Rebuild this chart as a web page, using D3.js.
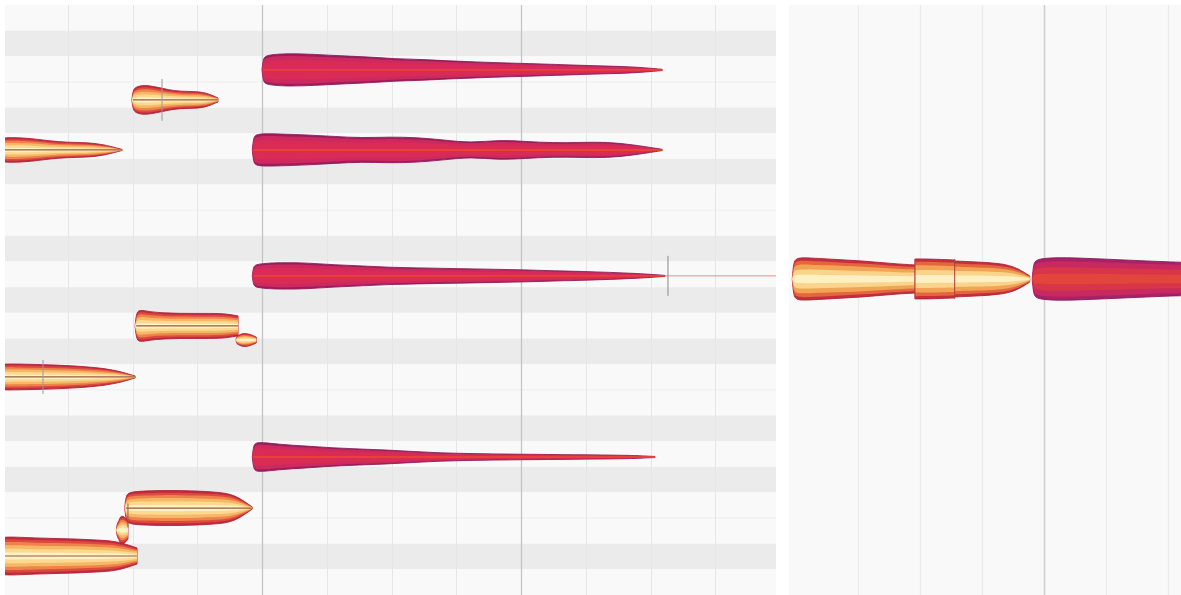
<!DOCTYPE html>
<html><head><meta charset="utf-8">
<script src="https://cdn.jsdelivr.net/npm/d3@7"></script>
<style>html,body{margin:0;padding:0;background:#fff;overflow:hidden}svg{display:block}</style>
</head><body>
<svg id="c" width="1181" height="595"></svg>
<script>
// ---------- data ----------
const pitchRows = [79,78,77,76,75,74,73,72,71,70,69,68,67,66,65,64,63,62,61,60,59,58,57];
const blackPitchClasses = [1,3,6,8,10];
const leftGridBeats = [1,2,3,4,5,6,7,8,9,10,11];
const leftMajorBeats = [4,8];
const rightGridBeats = [1,2,3,4,5,6];
const rightMajorBeats = [4];

const noteName  = ['redA','redB','redC','redD','y1','y2','y3','y3b','y4','y5','y5b','y6','r1','r2','r3','r4'];
const notePanel = ['L','L','L','L','L','L','L','L','L','L','L','L','R','R','R','R'];
const noteKind  = ['red','red','red','red','gold','gold','gold','gold','gold','gold','gold','gold','gold','gold','gold','red'];
const noteStart = [4.0, 3.85, 3.85, 3.85, 1.99, -0.12, 2.04, 3.60, -0.12, 1.88, 1.75, -0.12, -0.06, 1.92, 2.56, 3.81];
const noteEnd   = [10.18,10.18,10.22,10.07,3.32, 1.84, 3.63, 3.91, 2.04, 3.85, 1.93, 2.07, 1.92, 2.56, 3.77, 6.40];
const notePitch = [76.97,73.85,68.94,61.88,75.8,73.85,66.99,66.44,65.0,59.89,59.03,58.02,68.82,68.82,68.82,68.82];
const noteAmp = [
  [15,16.5,15.5,14,13,11,10.5,9,8,7,6.3,5.5,4.5,3.8,3,0.6],
  [16.5,16,15,13.5,12,13,12.5,10,7,10,8.5,7,7.5,8,5,0.6],
  [12,13.5,13,11,10,8.5,8,7.5,7,6.5,6,5,4.5,3.5,2.5,0.5],
  [15.5,12.5,11,9,8,7,5.5,4,3.5,3,2.8,2.5,2.2,2,1.8,0.5],
  [13,15,13,10,8.5,8.5,7.5,2],
  [12,12.5,11.5,9,7.5,7.5,5.5,0.5],
  [16.5,14,13,12.5,12.5,12.5,12.5,10],
  [4,7,6,3],
  [13,13,12.5,12,11,9.5,7,1],
  [16,17,17.5,17.5,17,16,14,1],
  [9,14,14,9],
  [19,19,18,17.5,17,16,15,8],
  [21.5,21,20,19,18,16.5,15,14],
  [20,20,19.5,19],
  [18,17.5,17,16.5,15.5,14,10,3],
  [20,21.5,21,20,19,18,17,16.5]
];
const noteHasLine = [true,true,true,true,true,true,true,false,true,true,false,true,false,false,false,false];

const sepPanel = ['L','L','L','L','R','R'];
const sepBeat  = [0.618, 2.456, 10.27, 1.93, 1.92, 2.56];
const sepPitch = [65.0, 75.8, 68.94, 59.6, 68.82, 68.82];
const sepHalf  = [17, 21, 20, 12, 20, 20];
const sepColor = ['#9a9a9a','#9a9a9a','#888888','#a05a3a','#b24a3e','#b24a3e'];

const tailStart = [10.22], tailEnd = [12.2], tailPitch = [68.94];

// ---------- scales ----------
const svg = d3.select('#c');
const y = d3.scaleLinear().domain([79.5, 56.5]).range([5, 595]);
const xL = d3.scaleLinear().domain([0, 12]).range([3, 780]);
const xR = d3.scaleLinear().domain([0, 4]).range([796, 1044]);
const amp = d3.scaleLinear().domain([0, 25]).range([0, 25]);
const LP = {x0: 5, x1: 776}, RP = {x0: 789, x1: 1181};

const defs = svg.append('defs');
defs.append('clipPath').attr('id','clipL').append('rect').attr('x',LP.x0).attr('y',5).attr('width',LP.x1-LP.x0).attr('height',590);
defs.append('clipPath').attr('id','clipR').append('rect').attr('x',RP.x0).attr('y',5).attr('width',RP.x1-RP.x0).attr('height',590);
defs.append('filter').attr('id','soft').append('feGaussianBlur').attr('stdDeviation',0.55);

svg.append('rect').attr('width',1181).attr('height',595).attr('fill','#ffffff');

// ---------- left panel background ----------
const gL = svg.append('g').attr('clip-path','url(#clipL)');
gL.selectAll('rect.lane').data(pitchRows).join('rect')
  .attr('x',LP.x0).attr('width',LP.x1-LP.x0)
  .attr('y',p=>y(p+0.5)).attr('height',p=>y(p-0.5)-y(p+0.5))
  .attr('fill',p=>blackPitchClasses.includes(p%12)?'#ebebeb':'#f9f9f9');
gL.selectAll('line.hb').data(pitchRows.filter(p=>!blackPitchClasses.includes(p%12)&&!blackPitchClasses.includes((p-1)%12)))
  .join('line').attr('x1',LP.x0).attr('x2',LP.x1)
  .attr('y1',p=>y(p-0.5)).attr('y2',p=>y(p-0.5))
  .attr('stroke','#eeeeee').attr('stroke-width',1);
gL.selectAll('line.vg').data(leftGridBeats).join('line')
  .attr('x1',b=>Math.round(xL(b))+0.5).attr('x2',b=>Math.round(xL(b))+0.5)
  .attr('y1',5).attr('y2',595)
  .attr('stroke',b=>leftMajorBeats.includes(b)?'#c4c4c4':'#e6e6e6')
  .attr('stroke-width',b=>leftMajorBeats.includes(b)?1.3:1);

// ---------- right panel background ----------
const gR = svg.append('g').attr('clip-path','url(#clipR)');
gR.append('rect').attr('x',RP.x0).attr('y',5).attr('width',RP.x1-RP.x0).attr('height',590).attr('fill','#f9f9f9');
gR.selectAll('line.vg').data(rightGridBeats).join('line')
  .attr('x1',b=>Math.round(xR(b))+0.5).attr('x2',b=>Math.round(xR(b))+0.5)
  .attr('y1',5).attr('y2',595)
  .attr('stroke',b=>rightMajorBeats.includes(b)?'#cfcfcf':'#ececec')
  .attr('stroke-width',b=>rightMajorBeats.includes(b)?1.6:1.2);

// ---------- notes ----------
const goldLayers = [[1.0,'#bf2a40'],[0.88,'#dc4a3e'],[0.74,'#ee8448'],[0.57,'#f6b868'],[0.38,'#fbd98e'],[0.18,'#fff1c6']];
const goldLayersR = [[1.0,'#c42e3c'],[0.86,'#e4663e'],[0.68,'#f2a456'],[0.45,'#f9d48a'],[0.2,'#fff0c4']];
const redLayers  = [[1.0,'#9c1f5e'],[0.86,'#cc2a5e'],[0.6,'#da2c56']];
const redLayersR = [[1.0,'#a8206a'],[0.84,'#c82a5e'],[0.55,'#d83648'],[0.25,'#e2443a']];

const gNotesL = gL.append('g').attr('filter','url(#soft)');
const gNotesR = gR.append('g').attr('filter','url(#soft)');

tailStart.forEach((s,i)=>{
  gNotesL.append('line').attr('x1',xL(s)).attr('x2',xL(tailEnd[i]))
    .attr('y1',y(tailPitch[i])).attr('y2',y(tailPitch[i]))
    .attr('stroke','#e86060').attr('stroke-width',0.9).attr('opacity',0.8);
});

noteName.forEach((name,i)=>{
  const isL = notePanel[i]==='L';
  const xs = isL ? xL : xR;
  const g = isL ? gNotesL : gNotesR;
  const a = noteAmp[i];
  const pts = a.map((v,k)=>({x: xs(noteStart[i]+(noteEnd[i]-noteStart[i])*k/(a.length-1)), h: amp(v)}));
  // rounded start cap unless the note directly continues a previous one at the same pitch
  const joined = noteName.some((n,j)=>j!==i && notePanel[j]===notePanel[i]
      && Math.abs(noteEnd[j]-noteStart[i])<0.01 && Math.abs(notePitch[j]-notePitch[i])<0.3);
  let shape = pts;
  if (!joined) {
    const capR = Math.min(4, pts[0].h*0.3);
    shape = [{x: pts[0].x, h: 0}, {x: pts[0].x+capR*0.3, h: pts[0].h*0.75}, {x: pts[0].x+capR, h: pts[0].h}, ...pts.slice(1)];
  }
  const yc = y(notePitch[i]);
  const layers = noteKind[i]==='gold' ? (isL?goldLayers:goldLayersR) : (isL?redLayers:redLayersR);
  layers.forEach(([f,col],li)=>{
    const area = d3.area().x(d=>d.x)
      .y0(d=>yc-f*d.h).y1(d=>yc+f*d.h).curve(d3.curveBasis);
    g.append('path').datum(shape).attr('d',area).attr('fill',col)
      .attr('stroke', li===0 ? (noteKind[i]==='gold'?'#b0243a':'#8e1e58') : 'none')
      .attr('stroke-width', li===0 ? 0.9 : 0);
  });
  if (noteHasLine[i]) {
    g.append('line').attr('x1',pts[0].x+1).attr('x2',pts[pts.length-1].x)
      .attr('y1',yc).attr('y2',yc)
      .attr('stroke', noteKind[i]==='gold'?'#9a5a3c':'#ec4a26')
      .attr('stroke-width', noteKind[i]==='gold'?1.2:1.4);
  }
});

sepBeat.forEach((b,i)=>{
  const isL = sepPanel[i]==='L';
  const xs = isL ? xL : xR;
  (isL?gL:gR).append('line')
    .attr('x1',xs(b)).attr('x2',xs(b))
    .attr('y1',y(sepPitch[i])-sepHalf[i]).attr('y2',y(sepPitch[i])+sepHalf[i])
    .attr('stroke',sepColor[i]).attr('stroke-width',1);
});
</script>
</body></html>
